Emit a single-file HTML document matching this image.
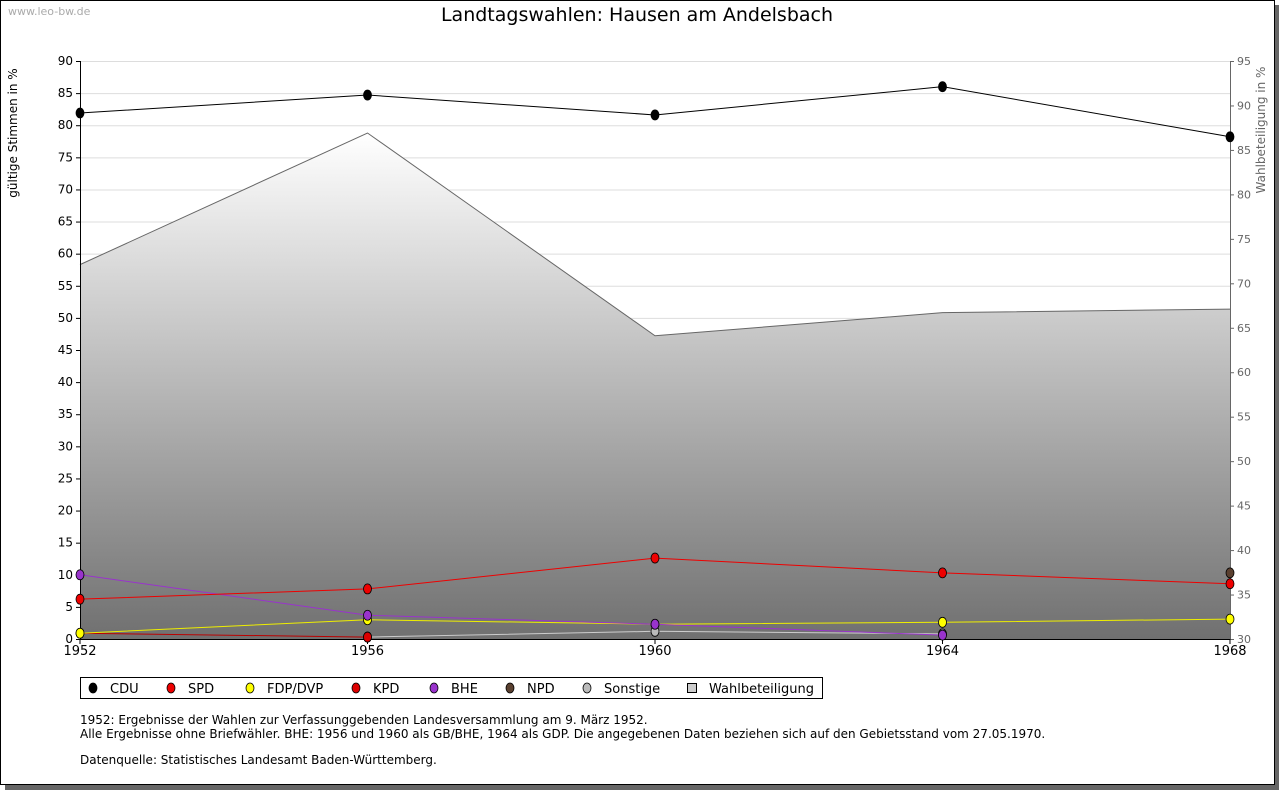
<!DOCTYPE html>
<html><head><meta charset="utf-8"><style>
body{margin:0;background:#fff;font-family:"Liberation Sans","DejaVu Sans",sans-serif;}
svg text{font-family:"DejaVu Sans","Liberation Sans",sans-serif;}
</style></head><body>
<svg id="c" width="1280" height="791">
<defs><linearGradient id="g" x1="0" y1="0" x2="0" y2="1"><stop offset="0" stop-color="#ffffff"/><stop offset="1" stop-color="#707070"/></linearGradient></defs>
<rect x="5" y="5" width="1274" height="785" fill="#666"/>
<rect x="0.5" y="0.5" width="1274" height="784" fill="#fff" stroke="#000"/>
<text x="8" y="15" font-size="11" fill="#aaa">www.leo-bw.de</text>
<text x="637" y="21" font-size="19" text-anchor="middle">Landtagswahlen: Hausen am Andelsbach</text>
<g id="grid"></g><g id="area"></g><g id="axes"></g><g id="series"></g>
<text transform="translate(17,133) rotate(-90)" font-size="12" text-anchor="middle">gültige Stimmen in %</text>
<text transform="translate(1265,130) rotate(-90)" font-size="12" fill="#666" text-anchor="middle">Wahlbeteiligung in %</text>
<rect x="80.5" y="677.5" width="742" height="21" fill="#fff" stroke="#000"/>
<g id="legend"></g>
<g font-size="12">
<text x="80" y="724">1952: Ergebnisse der Wahlen zur Verfassunggebenden Landesversammlung am 9. März 1952.</text>
<text x="80" y="738">Alle Ergebnisse ohne Briefwähler. BHE: 1956 und 1960 als GB/BHE, 1964 als GDP. Die angegebenen Daten beziehen sich auf den Gebietsstand vom 27.05.1970.</text>
<text x="80" y="764">Datenquelle: Statistisches Landesamt Baden-Württemberg.</text>
</g>
</svg>
<script>
const years=[1952,1956,1960,1964,1968];
const leftTicks=[0,5,10,15,20,25,30,35,40,45,50,55,60,65,70,75,80,85,90];
const rightTicks=[30,35,40,45,50,55,60,65,70,75,80,85,90,95];
const turnout=[72.1,86.9,64.1,66.7,67.1];
const cdu=[81.9,84.7,81.6,86.0,78.2];
const spd=[6.2,7.8,12.6,10.3,8.6];
const fdp=[0.9,3.0,2.3,2.6,3.1];
const kpd=[0.9,0.3,null,null,null];
const bhe=[10.0,3.7,2.3,0.6,null];
const npd=[null,null,null,null,10.3];
const sonst=[null,0.3,1.2,0.8,null];
const NS="http://www.w3.org/2000/svg";
const X=y=>80+(y-1952)/16*1150;
const Y=v=>639-v/90*578;
const Y2=v=>639-(v-30)/65*578;
function mk(t,a,p){const e=document.createElementNS(NS,t);for(const k in a)e.setAttribute(k,a[k]);(p||document.getElementById('c')).appendChild(e);return e;}
const grid=document.getElementById('grid'),axes=document.getElementById('axes'),ser=document.getElementById('series'),area=document.getElementById('area'),leg=document.getElementById('legend');
leftTicks.forEach(v=>{const l=mk('line',{x1:80,x2:1230,y1:Y(v)+.5,y2:Y(v)+.5,stroke:'#ddd'},grid);

mk('line',{x1:76,x2:80,y1:Y(v)+.5,y2:Y(v)+.5,stroke:'#000'},axes);
const t=mk('text',{x:73,y:Y(v)+4,'font-size':12,'text-anchor':'end'},axes);t.textContent=v;
});
rightTicks.forEach(v=>{mk('line',{x1:1230,x2:1234,y1:Y2(v)+.5,y2:Y2(v)+.5,stroke:'#666'},axes);
const t=mk('text',{x:1237,y:Y2(v)+4,'font-size':11,fill:'#666'},axes);t.textContent=v;
});
let d='M'+X(years[0])+','+Y2(30);years.forEach((y,i)=>d+='L'+X(y)+','+Y2(turnout[i]));d+='L'+X(1968)+','+Y2(30)+'Z';
const ar=mk('path',{d:d,fill:'url(#g)'},area);
const tl=mk('polyline',{points:years.map((y,i)=>X(y)+','+Y2(turnout[i])).join(' '),fill:'none',stroke:'#666'},area);

mk('line',{x1:80.5,x2:80.5,y1:61,y2:639,stroke:'#000'},axes);
mk('line',{x1:1230.5,x2:1230.5,y1:61,y2:639,stroke:'#666'},axes);
mk('line',{x1:80,x2:1230,y1:639.5,y2:639.5,stroke:'#000'},axes);
years.forEach(y=>{mk('line',{x1:X(y),x2:X(y),y1:639,y2:644,stroke:'#000'},axes);
const t=mk('text',{x:X(y),y:655,'font-size':13,'text-anchor':'middle'},axes);t.textContent=y;
});
function series(vals,col,line,name){const pts=[];vals.forEach((v,i)=>{if(v!=null)pts.push([X(years[i]),Y(v)]);});
if(pts.length>1){const p=mk('polyline',{points:pts.map(p=>p.join(',')).join(' '),fill:'none',stroke:line},ser);
}
pts.forEach(p=>{const m=mk('ellipse',{cx:p[0],cy:p[1],rx:4,ry:5,fill:col,stroke:'#000','stroke-width':.8},ser);
});}
series(sonst,'#bbb','#ccc','sonstige');
series(kpd,'#d00','#b00','kpd');
series(fdp,'#ff0','#ee0','fdp');
series(bhe,'#9933cc','#9933cc','bhe');
series(spd,'#e00','#e00','spd');
series(npd,'#5a4030','#5a4030','npd');
series(cdu,'#000','#000','cdu');
const L=[['CDU','#000',93],['SPD','#e00',171],['FDP/DVP','#ff0',250],['KPD','#d00',356],['BHE','#9933cc',434],['NPD','#5a4030',510],['Sonstige','#bbb',587],['Wahlbeteiligung','#ccc',692]];
L.forEach(([n,c,x],i)=>{let m;
if(i==7)m=mk('rect',{x:x-4.5,y:683.5,width:9,height:9,fill:c,stroke:'#000'},leg);
else m=mk('ellipse',{cx:x,cy:688,rx:4,ry:5,fill:c,stroke:'#000','stroke-width':.8},leg);

const t=mk('text',{x:x+17,y:693,'font-size':13},leg);t.textContent=n;
});
</script>
</body></html>
